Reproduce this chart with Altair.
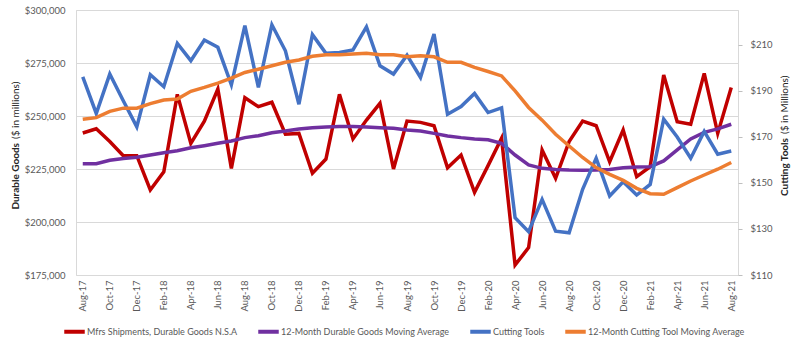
import altair as alt
import pandas as pd

months = ["Aug-17", "Sep-17", "Oct-17", "Nov-17", "Dec-17", "Jan-18", "Feb-18", "Mar-18",
          "Apr-18", "May-18", "Jun-18", "Jul-18", "Aug-18", "Sep-18", "Oct-18", "Nov-18",
          "Dec-18", "Jan-19", "Feb-19", "Mar-19", "Apr-19", "May-19", "Jun-19", "Jul-19",
          "Aug-19", "Sep-19", "Oct-19", "Nov-19", "Dec-19", "Jan-20", "Feb-20", "Mar-20",
          "Apr-20", "May-20", "Jun-20", "Jul-20", "Aug-20", "Sep-20", "Oct-20", "Nov-20",
          "Dec-20", "Jan-21", "Feb-21", "Mar-21", "Apr-21", "May-21", "Jun-21", "Jul-21",
          "Aug-21"]

durable = [242000, 244000, 238000, 231300, 231300, 215100, 223700, 260200, 237100, 247600,
           262700, 225300, 258600, 254400, 256500, 241400, 241800, 223000, 229700, 260200,
           239200, 248100, 256000, 225000, 247600, 247000, 245400, 225600, 231600, 214000,
           226600, 239500, 179700, 187900, 234000, 220600, 237900, 247600, 245400, 228400,
           243400, 221400, 226100, 269300, 247300, 246100, 270100, 241800, 263400]

durable_ma = [227500, 227500, 229100, 230000, 230500, 231600, 232700, 233600, 235000, 236000,
              237100, 238200, 239800, 240700, 242100, 242900, 243900, 244500, 244800, 245000,
              245000, 244800, 244500, 244200, 243400, 242900, 241800, 240600, 239800, 239200,
              238800, 237100, 231600, 226900, 225300, 224800, 224500, 224400, 224500, 224800,
              225600, 225900, 226100, 228800, 234000, 239200, 242300, 243900, 246100]

tools = [196.0, 180.1, 197.2, 185.6, 174.3, 196.9, 191.7, 210.5, 203.0, 212.0,
         208.8, 192.5, 218.2, 191.4, 218.6, 207.3, 184.1, 214.3, 206.2, 206.6,
         207.7, 217.7, 200.8, 197.2, 205.4, 195.7, 214.6, 179.8, 183.1, 188.8,
         180.5, 182.5, 134.9, 128.8, 142.8, 129.0, 128.3, 147.2, 160.7, 144.3,
         150.5, 144.7, 149.3, 177.6, 169.9, 160.7, 172.3, 162.4, 163.8]

tools_ma = [177.6, 178.3, 181.0, 182.4, 182.4, 184.4, 185.9, 186.4, 189.7, 191.4,
            193.3, 195.4, 197.9, 199.3, 200.8, 202.3, 203.3, 204.9, 205.6, 205.6,
            205.9, 206.2, 205.6, 205.6, 204.7, 205.1, 204.7, 202.3, 202.3, 200.1,
            198.3, 196.4, 189.9, 182.7, 177.2, 171.1, 166.0, 161.0, 156.6, 153.7,
            151.1, 147.6, 145.3, 145.0, 147.9, 150.8, 153.4, 155.9, 158.8]

series_names = ["Mfrs Shipments, Durable Goods N.S.A",
                "12-Month Durable Goods Moving Average",
                "Cutting Tools",
                "12-Month Cutting Tool Moving Average"]
colors = ["#C00000", "#7030A0", "#4472C4", "#ED7D31"]

left_ticks = [175000, 200000, 225000, 250000, 275000, 300000]
right_ticks = [110, 130, 150, 170, 190, 210]

left_title_bold = ["Durable Goods"]
left_title_rest = ["($ in millions)"]
right_title_bold = ["Cutting Tools"]
right_title_rest = ["($ in Millions)"]

rows = []
for name, vals in zip(series_names, [durable, durable_ma, tools, tools_ma]):
    for m, v in zip(months, vals):
        rows.append({"month": m, "series": name, "value": v})
df = pd.DataFrame(rows)

FONT = "Lato"
GRAY = "#595959"

x_enc = alt.X("month:O", sort=months,
              scale=alt.Scale(type="point", padding=0.5),
              axis=alt.Axis(values=months[::2], labelAngle=-90, ticks=False, domain=False,
                            labelPadding=5, title=None, labelFontSize=9.5,
                            labelColor=GRAY, labelFont=FONT, grid=False))

color_enc = alt.Color("series:N", sort=series_names,
                      scale=alt.Scale(domain=series_names, range=colors),
                      legend=alt.Legend(orient="none", legendX=-14, legendY=309,
                                        direction="horizontal", title=None,
                                        symbolType="stroke", symbolSize=420,
                                        symbolStrokeWidth=4, labelFontSize=9,
                                        labelColor=GRAY, labelFont=FONT, labelLimit=400,
                                        columnPadding=12, labelOffset=0))

left = alt.Chart(df).transform_filter(
    alt.FieldOneOfPredicate(field="series", oneOf=series_names[:2])
).mark_line(strokeWidth=3.5).encode(
    x=x_enc,
    y=alt.Y("value:Q",
            scale=alt.Scale(domain=[175000, 300000], nice=False, zero=False),
            axis=alt.Axis(values=left_ticks, format="$,.0f", grid=True, gridColor="#d9d9d9",
                          ticks=False, domain=False, labelPadding=11, title=None,
                          labelFontSize=9.5, labelColor=GRAY, labelFont=FONT)),
    color=color_enc,
)

right = alt.Chart(df).transform_filter(
    alt.FieldOneOfPredicate(field="series", oneOf=series_names[2:])
).mark_line(strokeWidth=3.5).encode(
    x=x_enc,
    y=alt.Y("value:Q",
            scale=alt.Scale(domain=[110, 225], nice=False, zero=False),
            axis=alt.Axis(orient="right", values=right_ticks, format="$.0f", grid=False,
                          ticks=True, tickSize=4, tickColor="#bfbfbf", domain=False,
                          labelPadding=8, title=None,
                          labelFontSize=9.5, labelColor=GRAY, labelFont=FONT)),
    color=color_enc,
)

def title_text(txt, x, y, align, weight):
    return alt.Chart(pd.DataFrame({"t": txt})).mark_text(
        angle=270, align=align, baseline="middle", font=FONT, fontSize=10,
        fontWeight=weight, color="#262626"
    ).encode(text="t:N", x=alt.value(x), y=alt.value(y))

t1 = title_text(left_title_bold, -60, 133, "right", "bold")
t2 = title_text(left_title_rest, -60, 129, "left", "normal")
t3 = title_text(right_title_bold, 709, 128, "right", "bold")
t4 = title_text(right_title_rest, 709, 124, "left", "normal")

chart = alt.layer(left, right, t1, t2, t3, t4).resolve_scale(
    y="independent"
).properties(
    width=662, height=265,
    padding={"left": 76, "top": 10, "right": 62, "bottom": 66},
    autosize=alt.AutoSizeParams(type="none"),
    background="white",
).configure_view(stroke="#d9d9d9", strokeWidth=1)

chart.save("out.html", embed_options={"renderer": "svg", "actions": False})
